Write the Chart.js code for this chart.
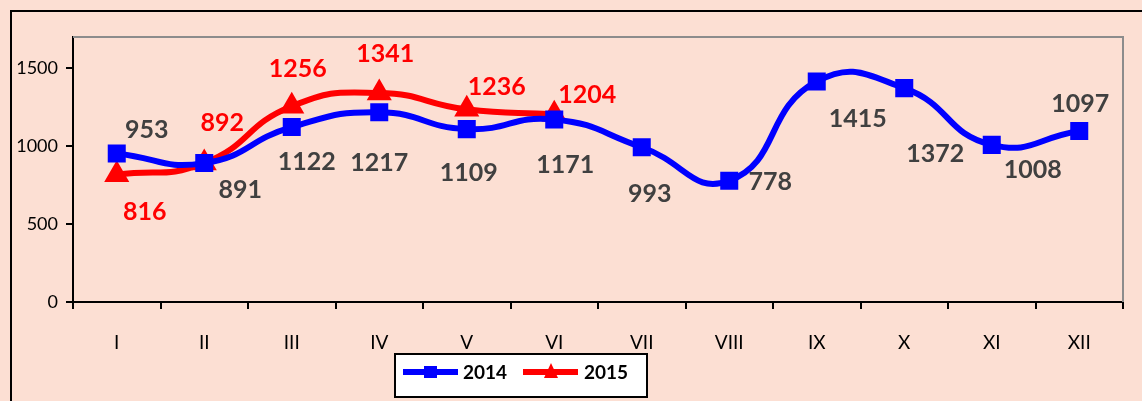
<!DOCTYPE html>
<html>
<head>
<meta charset="utf-8">
<script src="https://cdn.jsdelivr.net/npm/chart.js@4/dist/chart.umd.min.js"></script>
<style>
  html, body { margin: 0; padding: 0; background: #fcdfd3; overflow: hidden; }
  #wrap { position: relative; width: 1142px; height: 401px; }
  #frame { position: absolute; left: 10px; top: 10px; width: 1200px; height: 500px; border: 2px solid #000; box-sizing: border-box; }
  canvas { position: absolute; left: 0; top: 0; }
</style>
</head>
<body>
<div id="wrap">
  <div id="frame"></div>
  <canvas id="grafico" width="1142" height="401"></canvas>
</div>
<script>
// dados
const meses = ["I", "II", "III", "IV", "V", "VI", "VII", "VIII", "IX", "X", "XI", "XII"];
const valores2014 = [953, 891, 1122, 1217, 1109, 1171, 993, 778, 1415, 1372, 1008, 1097];
const valores2015 = [816, 892, 1256, 1341, 1236, 1204];
const ticksY = [0, 500, 1000, 1500];

// deslocamento dos rótulos em relação ao ponto (px)
const offs2014 = [[30, -24], [36, 27], [15, 35], [0, 51], [2, 44], [11, 45], [8, 47], [41, 1], [41, 38], [31, 66], [41, 25], [1, -27]];
const offs2015 = [[28, 37], [18, -40], [6, -37], [6, -39], [30, -22], [33, -19]];

const fonte = "Lato, sans-serif";

// rótulos de dados, bordas da área e legenda
const extras = {
  id: "extras",
  afterDatasetsDraw(chart) {
    const ctx = chart.ctx;
    const a = chart.chartArea;
    ctx.save();
    // borda cinza superior/direita
    ctx.strokeStyle = "#8c8c8c";
    ctx.lineWidth = 2;
    ctx.beginPath();
    ctx.moveTo(a.left, a.top);
    ctx.lineTo(a.right, a.top);
    ctx.lineTo(a.right, a.bottom);
    ctx.stroke();

    ctx.font = "bold 25px " + fonte;
    ctx.textAlign = "center";
    ctx.textBaseline = "middle";
    const series = [[0, offs2014, "#404040"], [1, offs2015, "#ff0000"]];
    series.forEach(([i, offs, cor]) => {
      const meta = chart.getDatasetMeta(i);
      ctx.fillStyle = cor;
      meta.data.forEach((p, j) => {
        const v = chart.data.datasets[i].data[j];
        ctx.fillText(String(v), p.x + offs[j][0], p.y + offs[j][1]);
      });
    });

    // legenda
    const lx = 395, ly = 354, lw = 252, lh = 43;
    ctx.fillStyle = "#fff";
    ctx.fillRect(lx, ly, lw, lh);
    ctx.strokeStyle = "#000";
    ctx.lineWidth = 2;
    ctx.strokeRect(lx, ly, lw, lh);
    const cy = ly + 18;
    ctx.lineWidth = 6;
    ctx.strokeStyle = "#0000ff";
    ctx.beginPath(); ctx.moveTo(lx + 8, cy); ctx.lineTo(lx + 63, cy); ctx.stroke();
    ctx.fillStyle = "#0000ff";
    ctx.fillRect(lx + 29, cy - 6, 13, 12);
    ctx.strokeStyle = "#ff0000";
    ctx.beginPath(); ctx.moveTo(lx + 128, cy); ctx.lineTo(lx + 183, cy); ctx.stroke();
    ctx.fillStyle = "#ff0000";
    ctx.beginPath();
    ctx.moveTo(lx + 156, cy - 9); ctx.lineTo(lx + 163, cy + 6); ctx.lineTo(lx + 149, cy + 6);
    ctx.closePath(); ctx.fill();
    ctx.fillStyle = "#000";
    ctx.font = "bold 19px " + fonte;
    ctx.textAlign = "left";
    ctx.fillText("2014", lx + 68, cy + 1);
    ctx.fillText("2015", lx + 189, cy + 1);
    ctx.restore();
  }
};

new Chart(document.getElementById("grafico"), {
  type: "line",
  data: {
    labels: meses,
    datasets: [
      {
        label: "2014",
        data: valores2014,
        borderColor: "#0000ff",
        backgroundColor: "#0000ff",
        borderWidth: 6,
        tension: 0.5,
        pointStyle: "rect",
        pointRadius: 8.5,
        pointHoverRadius: 8.5,
      },
      {
        label: "2015",
        data: valores2015,
        borderColor: "#ff0000",
        backgroundColor: "#ff0000",
        borderWidth: 6,
        tension: 0.5,
        pointStyle: "triangle",
        pointRadius: 8.5,
        pointHoverRadius: 8.5,
      },
    ],
  },
  options: {
    responsive: false,
    animation: false,
    clip: false,
    layout: { padding: { top: 37, right: 19, left: 0, bottom: 0 } },
    plugins: { legend: { display: false }, tooltip: { enabled: false } },
    scales: {
      x: {
        offset: true,
        grid: { offset: true, drawOnChartArea: false, tickLength: 7, color: "#000", lineWidth: 2 },
        border: { color: "#000", width: 2 },
        ticks: { color: "#000", font: { size: 19, family: fonte }, padding: 22, maxRotation: 0 },
        afterFit(s) { s.height = 99; },
      },
      y: {
        min: 0,
        max: 1700,
        afterBuildTicks(s) { s.ticks = ticksY.map((v) => ({ value: v })); },
        grid: { drawOnChartArea: false, tickLength: 7, color: "#000", lineWidth: 2 },
        border: { color: "#000", width: 2 },
        ticks: {
          color: "#000",
          font: { size: 18, family: fonte },
          padding: 8,
          callback: (v) => String(v),
        },
        afterFit(s) { s.width = 73; },
      },
    },
  },
  plugins: [extras],
});
</script>
</body>
</html>
